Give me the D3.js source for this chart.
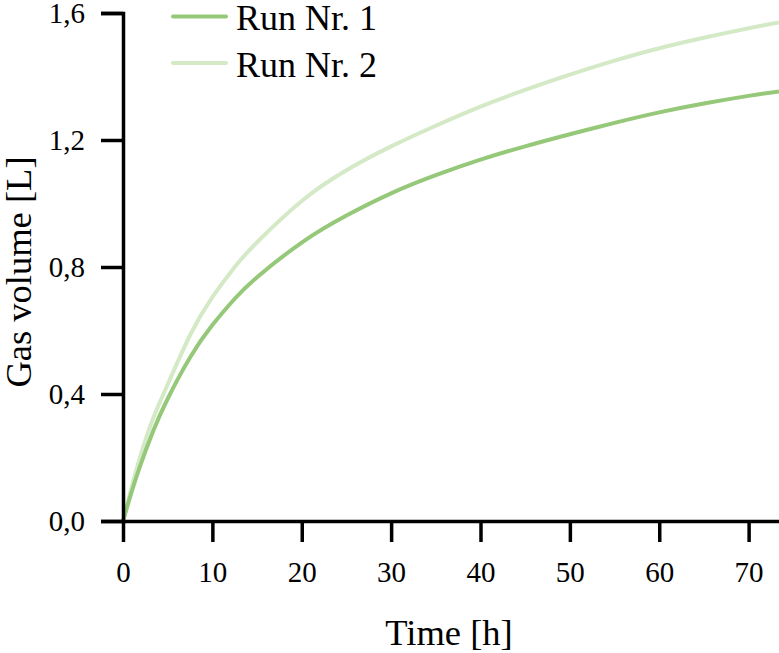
<!DOCTYPE html>
<html>
<head>
<meta charset="utf-8">
<script src="https://cdn.jsdelivr.net/npm/d3@7"></script>
<style>
  body { margin: 0; background: #fff; }
  svg { display: block; font-family: "Liberation Serif", "Times New Roman", serif; }
</style>
</head>
<body>
<svg id="chart"></svg>
<script>
// values
const timeH = [0, 1, 2, 3.4, 5, 7.5, 10, 12.5, 15, 20, 25, 30, 35, 40, 45, 50, 55, 60, 65, 70, 73.4];
const run1 = [0, 0.095, 0.18, 0.285, 0.385, 0.515, 0.617, 0.70, 0.768, 0.877, 0.962, 1.032, 1.089, 1.138, 1.18, 1.218, 1.254, 1.287, 1.315, 1.339, 1.353];
const run2 = [0, 0.11, 0.21, 0.325, 0.43, 0.585, 0.705, 0.80, 0.878, 1.008, 1.105, 1.18, 1.245, 1.305, 1.358, 1.406, 1.45, 1.489, 1.522, 1.552, 1.57];
const seriesNames = ["Run Nr. 1", "Run Nr. 2"];
const seriesColors = ["#95c878", "#d4e9c6"];
const xTicks = [0, 10, 20, 30, 40, 50, 60, 70];
const yTicks = [0, 0.4, 0.8, 1.2, 1.6];

const svgw = 779;
const svgh = 653;
const svg = d3.select('#chart')
    .attr('width', svgw)
    .attr('height', svgh);

const xScale = d3.scaleLinear()
    .domain([0, 73.4])
    .range([123, 779]);
const yScale = d3.scaleLinear()
    .domain([0, 1.6])
    .range([521, 13]);

const xAxis = d3.axisBottom(xScale)
    .tickValues(xTicks)
    .tickSizeInner(21)
    .tickSizeOuter(0)
    .tickPadding(19)
    .tickFormat(d3.format('d'));
const yAxis = d3.axisLeft(yScale)
    .tickValues(yTicks)
    .tickSizeInner(22)
    .tickSizeOuter(22)
    .tickPadding(16)
    .tickFormat(d => d3.format('.1f')(d).replace('.', ','));

const lineGen = d3.line()
    .x((d, i) => xScale(timeH[i]))
    .y(d => yScale(d))
    .curve(d3.curveNatural);

// light run drawn first so the darker one sits on top
const lineGroup = svg.append('g');
lineGroup.append('path')
    .datum(run2)
    .attr('d', lineGen)
    .attr('fill', 'none')
    .attr('stroke', seriesColors[1])
    .attr('stroke-width', 4);
lineGroup.append('path')
    .datum(run1)
    .attr('d', lineGen)
    .attr('fill', 'none')
    .attr('stroke', seriesColors[0])
    .attr('stroke-width', 4);

const gx = svg.append('g')
    .attr('transform', `translate(0, ${yScale(0)})`)
    .call(xAxis);
const gy = svg.append('g')
    .attr('transform', `translate(${xScale(0)}, 0)`)
    .call(yAxis);

[gx, gy].forEach(g => {
    g.selectAll('path, line')
        .style('stroke', '#000')
        .style('stroke-width', '3.5px');
    g.selectAll('text')
        .attr('fill', '#000')
        .style('font-size', '29px')
        .style('font-family', '"Liberation Serif", serif');
});

// axis titles
svg.append('text')
    .attr('x', 449)
    .attr('y', 645)
    .attr('text-anchor', 'middle')
    .style('font-size', '36.5px')
    .text('Time [h]');

svg.append('text')
    .attr('transform', 'translate(31, 272) rotate(-90)')
    .attr('text-anchor', 'middle')
    .style('font-size', '36.5px')
    .text('Gas volume [L]');

// legend
const legend = svg.append('g');
seriesNames.forEach((name, i) => {
    const ly = 16.5 + i * 46.5;
    legend.append('line')
        .attr('x1', 173).attr('x2', 226)
        .attr('y1', ly).attr('y2', ly)
        .attr('stroke', seriesColors[i])
        .attr('stroke-width', 4)
        .attr('stroke-linecap', 'round');
    legend.append('text')
        .attr('x', 236)
        .attr('y', ly + 13.5)
        .style('font-size', '36px')
        .text(name);
});
</script>
</body>
</html>
